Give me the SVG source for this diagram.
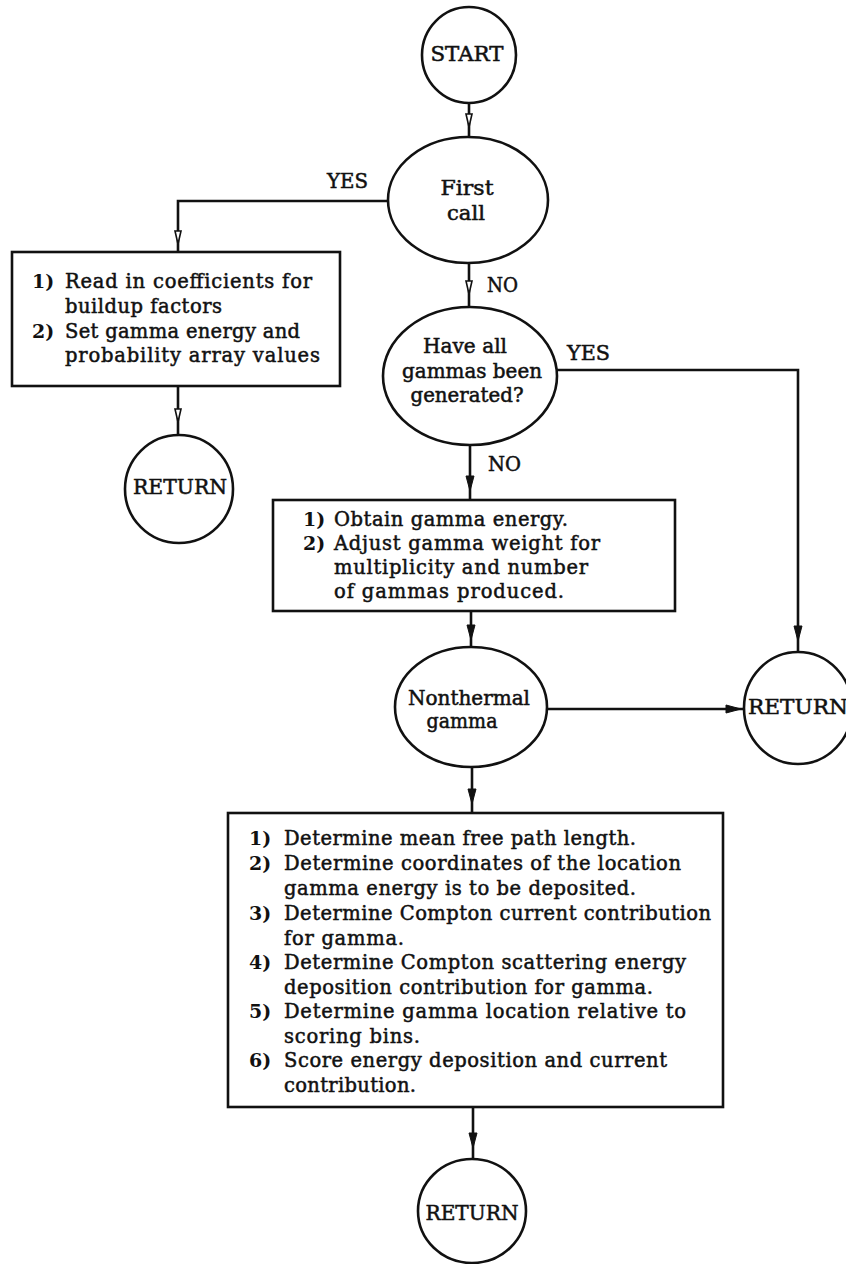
<svg xmlns="http://www.w3.org/2000/svg" xmlns:xlink="http://www.w3.org/1999/xlink" width="846" height="1264" viewBox="0 0 846 1264">
  <style>
    .shape { fill: none; stroke: #111; stroke-width: 2.6; }
    .conn { fill: none; stroke: #111; stroke-width: 2.6; }
    .lbl { font-family: "DejaVu Serif", "Liberation Serif", serif; font-size: 19.5px; fill: #111; stroke: #111; stroke-width: 0.5; }
    .node { font-family: "DejaVu Serif", "Liberation Serif", serif; font-size: 19.5px; fill: #111; stroke: #111; stroke-width: 0.5; }
    .num { font-family: "DejaVu Serif", "Liberation Serif", serif; font-size: 19px; font-weight: bold; fill: #111; }
    .mid { text-anchor: middle; }
    .open { fill: #fff; stroke: #111; stroke-width: 1.6; }
    .solid { fill: #111; stroke: #111; stroke-width: 1; }
  </style>
  <defs>
    <path id="arrOpen" d="M-3,-13 L3,-13 L0,0 Z"/>
    <path id="arrFill" d="M-4,-15 L4,-15 L0,0 Z"/>
  </defs>
  <rect width="846" height="1264" fill="#fff"/>

  <!-- connectors -->
  <g id="connectors">
    <line class="conn" x1="469" y1="102" x2="469" y2="137"/>
    <use href="#arrOpen" class="open" transform="translate(469,127)"/>

    <polyline class="conn" points="388,201 178,201 178,252"/>
    <use href="#arrOpen" class="open" transform="translate(178,244)"/>

    <line class="conn" x1="469" y1="263" x2="469" y2="307"/>
    <use href="#arrOpen" class="open" transform="translate(469,294)"/>

    <line class="conn" x1="178" y1="386" x2="178" y2="435"/>
    <use href="#arrOpen" class="open" transform="translate(178,422)"/>

    <line class="conn" x1="470" y1="445" x2="470" y2="500"/>
    <use href="#arrFill" class="solid" transform="translate(470,491)"/>

    <polyline class="conn" points="557,370 798,370 798,652"/>
    <use href="#arrFill" class="solid" transform="translate(798,641)"/>

    <line class="conn" x1="471" y1="611" x2="471" y2="647"/>
    <use href="#arrFill" class="solid" transform="translate(471,640)"/>

    <line class="conn" x1="547" y1="709" x2="744" y2="709"/>
    <use href="#arrFill" class="solid" transform="translate(741,709) rotate(-90)"/>

    <line class="conn" x1="472" y1="767" x2="472" y2="813"/>
    <use href="#arrFill" class="solid" transform="translate(472,804)"/>

    <line class="conn" x1="473" y1="1107" x2="473" y2="1159"/>
    <use href="#arrFill" class="solid" transform="translate(473,1148)"/>

    <text class="node" x="327" y="188" textLength="41" lengthAdjust="spacingAndGlyphs">YES</text>
    <text class="node" x="487" y="292" textLength="31" lengthAdjust="spacingAndGlyphs">NO</text>
    <text class="node" x="567" y="360" textLength="43" lengthAdjust="spacingAndGlyphs">YES</text>
    <text class="node" x="488" y="471" textLength="33" lengthAdjust="spacingAndGlyphs">NO</text>
  </g>

  <!-- start terminal -->
  <g id="start">
    <ellipse class="shape" cx="469" cy="55" rx="47" ry="48"/>
    <text class="node mid" x="467" y="61" textLength="73" lengthAdjust="spacingAndGlyphs">START</text>
  </g>

  <!-- first call decision -->
  <g id="first-call">
    <ellipse class="shape" cx="468" cy="200" rx="80" ry="63"/>
    <text class="node mid" x="467" y="195" textLength="53" lengthAdjust="spacingAndGlyphs">First</text>
    <text class="node mid" x="466" y="220" textLength="38" lengthAdjust="spacingAndGlyphs">call</text>
  </g>

  <!-- initialisation box -->
  <g id="init-box">
    <rect class="shape" x="12" y="252" width="328" height="134"/>
    <text class="num" x="32" y="288">1)</text>
    <text class="lbl" x="65" y="288" textLength="247" lengthAdjust="spacing">Read in coefficients for</text>
    <text class="lbl" x="65" y="313" textLength="157" lengthAdjust="spacing">buildup factors</text>
    <text class="num" x="32" y="338">2)</text>
    <text class="lbl" x="65" y="338" textLength="235" lengthAdjust="spacing">Set gamma energy and</text>
    <text class="lbl" x="65" y="362" textLength="255" lengthAdjust="spacing">probability array values</text>
  </g>

  <!-- return after initialisation -->
  <g id="return-init">
    <ellipse class="shape" cx="179" cy="489" rx="54" ry="54"/>
    <text class="node mid" x="180" y="494" textLength="94" lengthAdjust="spacingAndGlyphs">RETURN</text>
  </g>

  <!-- all gammas generated decision -->
  <g id="all-generated">
    <ellipse class="shape" cx="470" cy="376" rx="87" ry="69"/>
    <text class="node mid" x="465" y="353" textLength="84" lengthAdjust="spacingAndGlyphs">Have all</text>
    <text class="node mid" x="472" y="378" textLength="140" lengthAdjust="spacingAndGlyphs">gammas been</text>
    <text class="node mid" x="467" y="402" textLength="113" lengthAdjust="spacingAndGlyphs">generated?</text>
  </g>

  <!-- energy / weight box -->
  <g id="energy-box">
    <rect class="shape" x="273" y="500" width="402" height="111"/>
    <text class="num" x="303" y="526">1)</text>
    <text class="lbl" x="334" y="526" textLength="234" lengthAdjust="spacing">Obtain gamma energy.</text>
    <text class="num" x="303" y="550">2)</text>
    <text class="lbl" x="334" y="550" textLength="266" lengthAdjust="spacing">Adjust gamma weight for</text>
    <text class="lbl" x="334" y="574" textLength="254" lengthAdjust="spacing">multiplicity and number</text>
    <text class="lbl" x="334" y="598" textLength="230" lengthAdjust="spacing">of gammas produced.</text>
  </g>

  <!-- nonthermal decision -->
  <g id="nonthermal">
    <ellipse class="shape" cx="471" cy="707" rx="76" ry="60"/>
    <text class="node mid" x="469" y="705" textLength="122" lengthAdjust="spacingAndGlyphs">Nonthermal</text>
    <text class="node mid" x="462" y="728" textLength="71" lengthAdjust="spacingAndGlyphs">gamma</text>
  </g>

  <!-- return on the right -->
  <g id="return-right">
    <ellipse class="shape" cx="798" cy="708" rx="54" ry="56"/>
    <text class="node" x="748" y="714" textLength="100" lengthAdjust="spacingAndGlyphs">RETURN</text>
  </g>

  <!-- scoring box -->
  <g id="score-box">
    <rect class="shape" x="228" y="813" width="495" height="294"/>
    <text class="num" x="249" y="845">1)</text>
    <text class="lbl" x="284" y="845" textLength="352" lengthAdjust="spacing">Determine mean free path length.</text>
    <text class="num" x="249" y="870">2)</text>
    <text class="lbl" x="284" y="870" textLength="397" lengthAdjust="spacing">Determine coordinates of the location</text>
    <text class="lbl" x="284" y="895" textLength="352" lengthAdjust="spacing">gamma energy is to be deposited.</text>
    <text class="num" x="249" y="920">3)</text>
    <text class="lbl" x="284" y="920" textLength="427" lengthAdjust="spacing">Determine Compton current contribution</text>
    <text class="lbl" x="284" y="945" textLength="120" lengthAdjust="spacing">for gamma.</text>
    <text class="num" x="249" y="969">4)</text>
    <text class="lbl" x="284" y="969" textLength="402" lengthAdjust="spacing">Determine Compton scattering energy</text>
    <text class="lbl" x="284" y="994" textLength="369" lengthAdjust="spacing">deposition contribution for gamma.</text>
    <text class="num" x="249" y="1018">5)</text>
    <text class="lbl" x="284" y="1018" textLength="402" lengthAdjust="spacing">Determine gamma location relative to</text>
    <text class="lbl" x="284" y="1043" textLength="136" lengthAdjust="spacing">scoring bins.</text>
    <text class="num" x="249" y="1067">6)</text>
    <text class="lbl" x="284" y="1067" textLength="383" lengthAdjust="spacing">Score energy deposition and current</text>
    <text class="lbl" x="284" y="1092" textLength="132" lengthAdjust="spacing">contribution.</text>
  </g>

  <!-- final return -->
  <g id="return-end">
    <ellipse class="shape" cx="472" cy="1211" rx="54" ry="52"/>
    <text class="node mid" x="472" y="1220" textLength="93" lengthAdjust="spacingAndGlyphs">RETURN</text>
  </g>
</svg>
